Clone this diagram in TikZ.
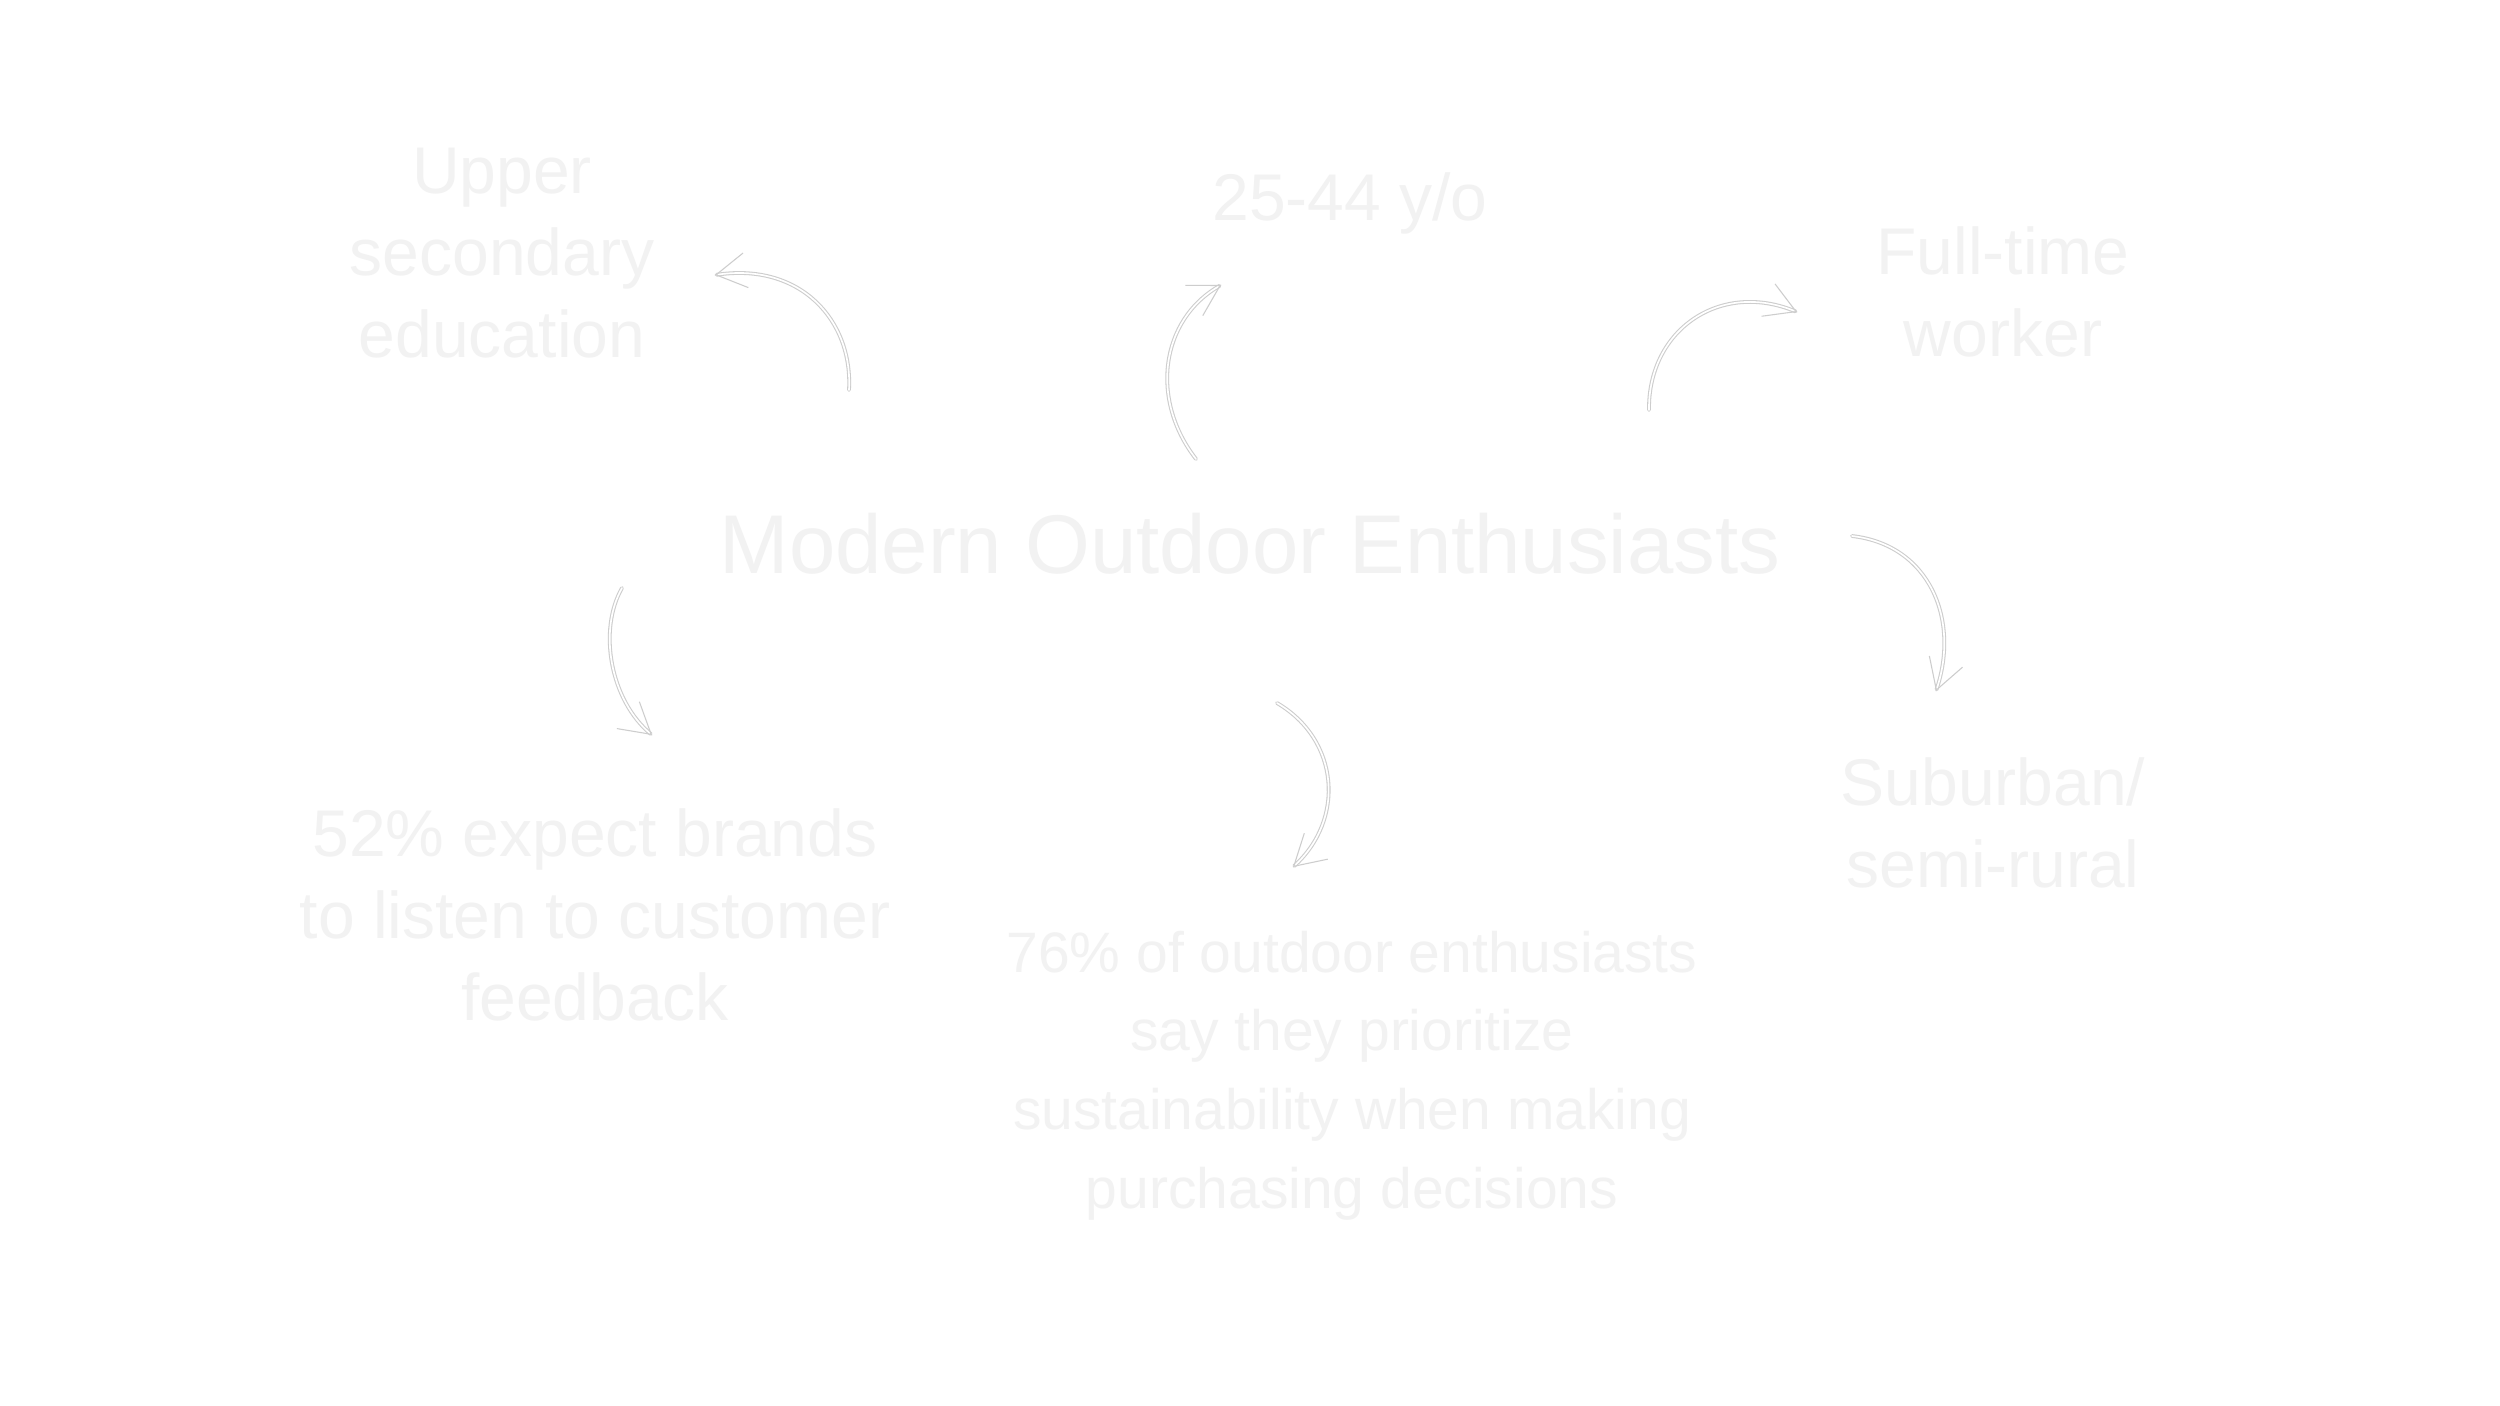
\documentclass[tikz,border=0pt]{standalone}
\usepackage{fontspec}
\setmainfont{Liberation Sans}
\usetikzlibrary{arrows.meta}
\definecolor{txtc}{RGB}{242,242,242}
\definecolor{edgec}{RGB}{205,205,205}
\tikzset{
  lbl/.style={text=txtc, inner sep=0pt, anchor=base, align=center},
  bigtxt/.style={font=\fontsize{19.8}{24.5}\selectfont},
  smalltxt/.style={font=\fontsize{17.1}{23.6}\selectfont},
  titletxt/.style={font=\fontsize{25}{30}\selectfont},
  arr/.style={draw=edgec, line width=0.32pt, double=white, double distance=0.5pt,
    line cap=round, -{Straight Barb[length=9pt,width=10.5pt]}}
}
\begin{document}
\begin{tikzpicture}[x=0.3pt,y=-0.3pt]
\fill[white] (0,0) rectangle (2500,1406);
\useasboundingbox (0,0) rectangle (2500,1406);

% arrow end points
\coordinate (a1s) at (849,390);  \coordinate (a1e) at (715,275);
\coordinate (a2s) at (1196,459); \coordinate (a2e) at (1221,285);
\coordinate (a3s) at (1649,410); \coordinate (a3e) at (1797,312);
\coordinate (a4s) at (1852,536); \coordinate (a4e) at (1936,691);
\coordinate (a5s) at (622,588);  \coordinate (a5e) at (652,735);
\coordinate (a6s) at (1277,703); \coordinate (a6e) at (1293,867);

\draw[arr] (a1s) .. controls (853,320) and (800,262) .. (a1e);
\draw[arr] (a2s) .. controls (1150,400) and (1160,320) .. (a2e);
\draw[arr] (a3s) .. controls (1648,330) and (1720,280) .. (a3e);
\draw[arr] (a4s) .. controls (1930,545) and (1960,620) .. (a4e);
\draw[arr] (a5s) .. controls (598,630) and (610,700) .. (a5e);
\draw[arr] (a6s) .. controls (1340,740) and (1345,820) .. (a6e);

% multi-line nodes: the base anchor is the baseline of the last line
\node[lbl, titletxt] (title) at (1250,573) {Modern Outdoor Enthusiasts};
\node[lbl, bigtxt] (edu) at (502,357) {Upper\\secondary\\education};
\node[lbl, bigtxt] (age) at (1350,220) {25-44 y/o};
\node[lbl, bigtxt] (work) at (2003,356) {Full-time\\worker};
\node[lbl, bigtxt] (area) at (1993,887) {Suburban/\\semi-rural};
\node[lbl, bigtxt] (fb) at (595,1020) {52\% expect brands\\to listen to customer\\feedback};
\node[lbl, smalltxt] (sus) at (1352,1208) {76\% of outdoor enthusiasts\\say they prioritize\\sustainability when making\\purchasing decisions};
\end{tikzpicture}
\end{document}
